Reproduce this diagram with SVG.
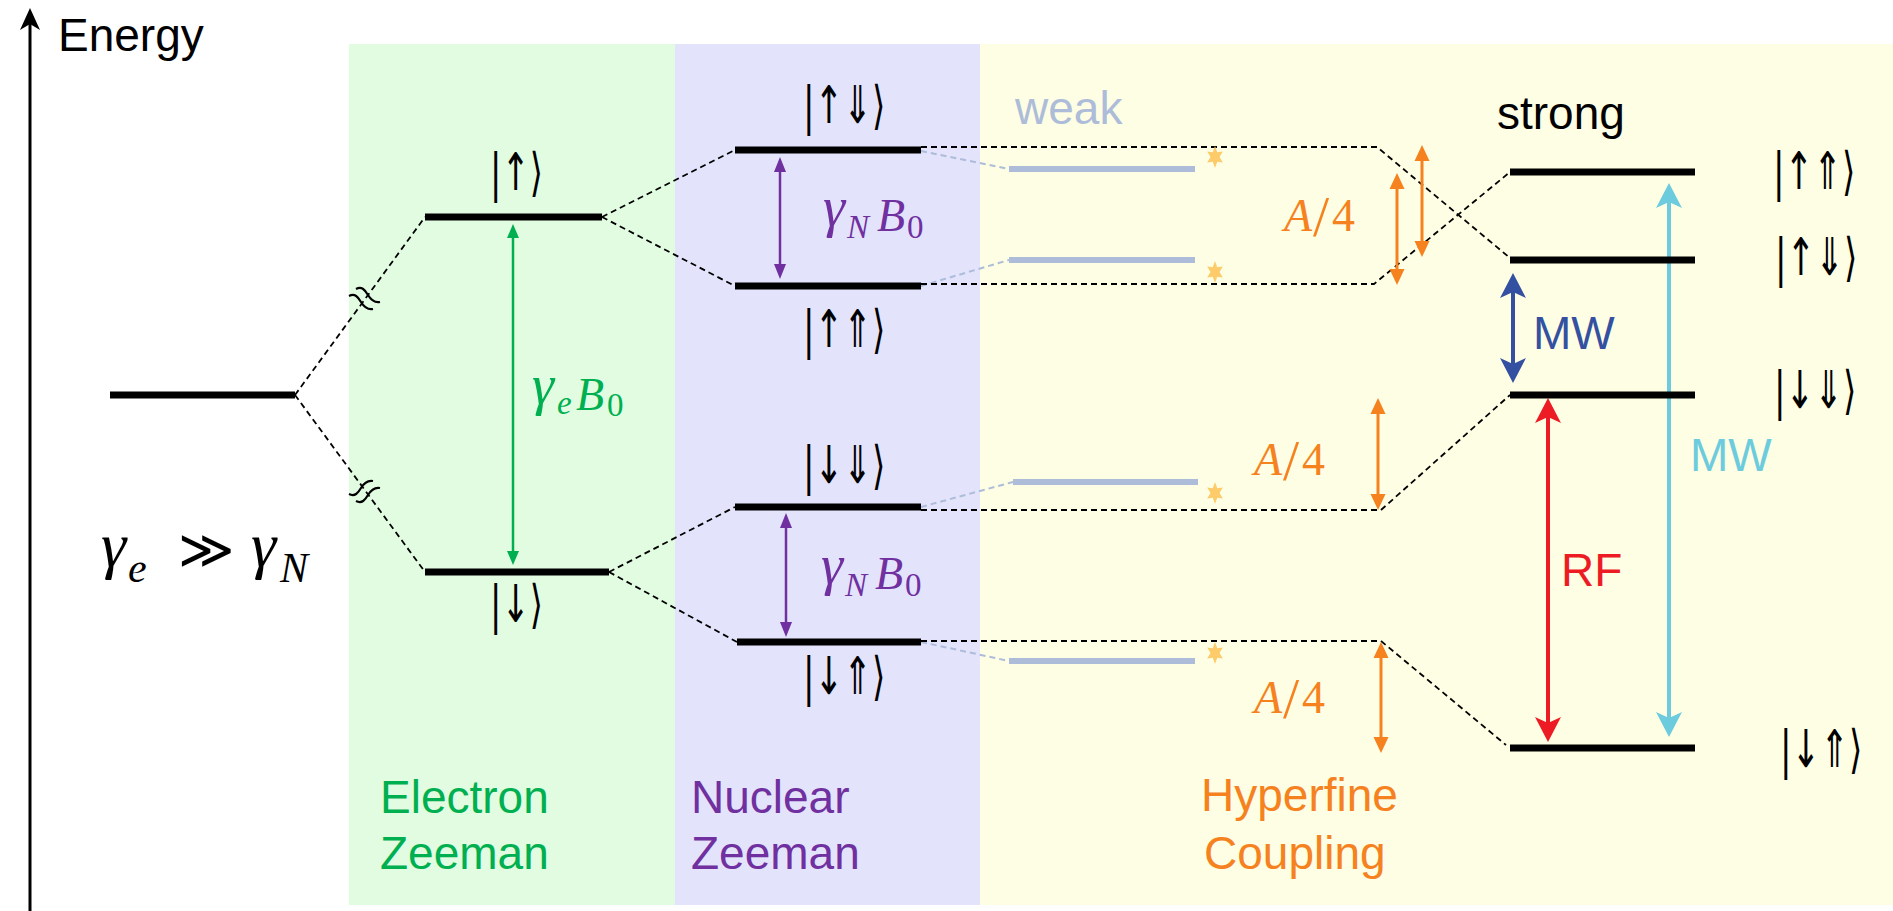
<svg xmlns="http://www.w3.org/2000/svg" width="1893" height="911" viewBox="0 0 1893 911">
<style>
.lvl{stroke:#000;stroke-width:7;}
.weak{stroke:#adbcd9;stroke-width:6;}
.dash{stroke:#000;stroke-width:1.8;stroke-dasharray:6 4;fill:none;}
.wdash{stroke:#adbcd9;stroke-width:2;stroke-dasharray:6 4;fill:none;}
.sans{font-family:"Liberation Sans",Arial,sans-serif;font-size:46px;}
.ket{font-family:"DejaVu Sans","Noto Sans",sans-serif;font-size:52px;fill:#000;}
.math{font-family:"Liberation Serif","DejaVu Serif",serif;font-size:46px;}
.it{font-style:italic;}
.g{font-size:56px;}
.sub{font-size:33px;}
.sl{font-size:58px;}
.star{fill:#fecb6a;}
</style>
<defs>
<marker id="ahG" markerUnits="userSpaceOnUse" viewBox="-12 -8 20 16" markerWidth="20" markerHeight="16" refX="0" refY="0" orient="auto-start-reverse"><path d="M5,0 L-9,-6 L-9,6 z" fill="#00b050"/></marker>
<marker id="ahP" markerUnits="userSpaceOnUse" viewBox="-12 -8 20 16" markerWidth="20" markerHeight="16" refX="0" refY="0" orient="auto-start-reverse"><path d="M5,0 L-10,-6 L-10,6 z" fill="#7030a0"/></marker>
<marker id="ahO" markerUnits="userSpaceOnUse" viewBox="-12 -9 20 18" markerWidth="20" markerHeight="18" refX="0" refY="0" orient="auto-start-reverse"><path d="M6,0 L-10,-7.5 L-10,7.5 z" fill="#f5821f"/></marker>
<marker id="stB" markerUnits="userSpaceOnUse" viewBox="-20 -15 30 30" markerWidth="30" markerHeight="30" refX="0" refY="0" orient="auto-start-reverse"><path d="M8,0 L-17,-13 L-11,0 L-17,13 z" fill="#3451a1"/></marker>
<marker id="stR" markerUnits="userSpaceOnUse" viewBox="-20 -15 30 30" markerWidth="30" markerHeight="30" refX="0" refY="0" orient="auto-start-reverse"><path d="M8,0 L-17,-13 L-11,0 L-17,13 z" fill="#ed1c24"/></marker>
<marker id="stC" markerUnits="userSpaceOnUse" viewBox="-20 -15 30 30" markerWidth="30" markerHeight="30" refX="0" refY="0" orient="auto-start-reverse"><path d="M8,0 L-17,-13 L-11,0 L-17,13 z" fill="#6ccbdd"/></marker>
<marker id="stK" markerUnits="userSpaceOnUse" viewBox="-20 -15 30 30" markerWidth="30" markerHeight="30" refX="0" refY="0" orient="auto-start-reverse"><path d="M6,0 L-16,-10 L-10,0 L-16,10 z" fill="#000"/></marker>
<path id="starShape" d="M0,-11 L2.25,-4.76 L7.8,-5.5 L4.5,0 L7.8,5.5 L2.25,4.76 L0,11 L-2.25,4.76 L-7.8,5.5 L-4.5,0 L-7.8,-5.5 L-2.25,-4.76 z"/>
</defs>

<g id="panels">
<rect x="349" y="44" width="326" height="861" fill="#e2fce2"/>
<rect x="675" y="44" width="305" height="861" fill="#e3e3fc"/>
<rect x="980" y="44" width="913" height="861" fill="#fefee4"/>
</g>

<g id="axis">
<line x1="30" y1="911" x2="30" y2="14" stroke="#000" stroke-width="3" marker-end="url(#stK)"/>
<text class="sans" x="58" y="51" fill="#000">Energy</text>
</g>

<g id="section-labels" class="sans">
<text x="380" y="813" fill="#00b050">Electron</text>
<text x="380" y="869" fill="#00b050">Zeeman</text>
<text x="691" y="813" fill="#7030a0">Nuclear</text>
<text x="691" y="869" fill="#7030a0">Zeeman</text>
<text x="1201" y="811" fill="#f5821f">Hyperfine</text>
<text x="1204" y="869" fill="#f5821f">Coupling</text>
<text x="1015" y="124" fill="#adbcd9">weak</text>
<text x="1497" y="129" fill="#000">strong</text>
</g>

<g id="connectors">
<path class="dash" d="M295,395 L425,217"/>
<path class="dash" d="M295,395 L425,572"/>
<path d="M349,296 c6,-3 9,1 12,6 c3,5 7,8 12,7 M356,289 c6,-3 9,1 12,6 c3,5 7,8 12,7" fill="none" stroke="#000" stroke-width="2.2"/>
<path d="M349,494 c6,3 9,-1 12,-6 c3,-5 7,-8 12,-7 M356,501 c6,3 9,-1 12,-6 c3,-5 7,-8 12,-7" fill="none" stroke="#000" stroke-width="2.2"/>
<path class="dash" d="M602,217 L735,150"/>
<path class="dash" d="M602,217 L735,286"/>
<path class="dash" d="M609,572 L735,507"/>
<path class="dash" d="M609,572 L737,642"/>
<path class="wdash" d="M921,151 L1009,169"/>
<path class="wdash" d="M921,286 L1009,260"/>
<path class="wdash" d="M921,507 L1013,482"/>
<path class="wdash" d="M921,642 L1009,661"/>
<path class="dash" d="M921,147 L1377,147 L1510,258"/>
<path class="dash" d="M921,284 L1374,284 L1510,172"/>
<path class="dash" d="M921,510 L1381,510 L1510,395"/>
<path class="dash" d="M921,641 L1381,641 L1506,745"/>
<line x1="513" y1="229" x2="513" y2="560" stroke="#00b050" stroke-width="2.5" marker-start="url(#ahG)" marker-end="url(#ahG)"/>
<line x1="780" y1="162" x2="780" y2="274" stroke="#7030a0" stroke-width="2.5" marker-start="url(#ahP)" marker-end="url(#ahP)"/>
<line x1="786" y1="518" x2="786" y2="632" stroke="#7030a0" stroke-width="2.5" marker-start="url(#ahP)" marker-end="url(#ahP)"/>
<line x1="1397" y1="179" x2="1397" y2="279" stroke="#f5821f" stroke-width="3" marker-start="url(#ahO)" marker-end="url(#ahO)"/>
<line x1="1422" y1="151" x2="1422" y2="251" stroke="#f5821f" stroke-width="3" marker-start="url(#ahO)" marker-end="url(#ahO)"/>
<line x1="1378" y1="404" x2="1378" y2="504" stroke="#f5821f" stroke-width="3" marker-start="url(#ahO)" marker-end="url(#ahO)"/>
<line x1="1381" y1="648" x2="1381" y2="747" stroke="#f5821f" stroke-width="3" marker-start="url(#ahO)" marker-end="url(#ahO)"/>
<line x1="1513" y1="281" x2="1513" y2="375" stroke="#3451a1" stroke-width="4" marker-start="url(#stB)" marker-end="url(#stB)"/>
<line x1="1548" y1="406" x2="1548" y2="734" stroke="#ed1c24" stroke-width="4" marker-start="url(#stR)" marker-end="url(#stR)"/>
<line x1="1669" y1="191" x2="1669" y2="729" stroke="#6ccbdd" stroke-width="4" marker-start="url(#stC)" marker-end="url(#stC)"/>
</g>

<g id="transition-labels">
<text class="math" fill="#00b050"><tspan class="it g" x="532" y="404">γ</tspan><tspan class="it sub" x="557" y="414">e</tspan><tspan class="it" x="576" y="410">B</tspan><tspan class="sub" x="607" y="416">0</tspan></text>
<text class="math" fill="#7030a0"><tspan class="it g" x="823" y="226">γ</tspan><tspan class="it sub" x="847" y="238">N</tspan><tspan class="it" x="877" y="231">B</tspan><tspan class="sub" x="907" y="238">0</tspan></text>
<text class="math" fill="#7030a0"><tspan class="it g" x="821" y="584">γ</tspan><tspan class="it sub" x="845" y="596">N</tspan><tspan class="it" x="875" y="589">B</tspan><tspan class="sub" x="905" y="596">0</tspan></text>
<text class="math" fill="#f5821f" font-size="48"><tspan class="it" x="1284" y="231">A</tspan><tspan class="sl" x="1313" y="236">/</tspan><tspan x="1332" y="231">4</tspan></text>
<text class="math" fill="#f5821f" font-size="48"><tspan class="it" x="1254" y="475">A</tspan><tspan class="sl" x="1283" y="480">/</tspan><tspan x="1302" y="475">4</tspan></text>
<text class="math" fill="#f5821f" font-size="48"><tspan class="it" x="1254" y="713">A</tspan><tspan class="sl" x="1283" y="718">/</tspan><tspan x="1302" y="713">4</tspan></text>
<text class="sans" x="1533" y="349" fill="#3451a1">MW</text>
<text class="sans" x="1561" y="586" fill="#ed1c24">RF</text>
<text class="sans" x="1690" y="471" fill="#6ccbdd">MW</text>
</g>

<g id="ratio-label">
<text class="math" fill="#000"><tspan class="it" x="101" y="566" font-size="64">γ</tspan><tspan class="it" x="128" y="582" font-size="42">e</tspan><tspan class="it" x="251" y="566" font-size="64">γ</tspan><tspan class="it" x="280" y="582" font-size="42">N</tspan></text>
<text x="178" y="568" font-family="DejaVu Sans,sans-serif" font-weight="200" font-size="54" fill="#000">≫</text>
</g>

<g id="level-zero"><line class="lvl" x1="110" y1="395" x2="295" y2="395"/></g>

<g id="e-up"><line class="lvl" x1="425" y1="217" x2="602" y2="217"/><text class="ket" transform="translate(490,190) scale(0.65,1)">|↑⟩</text></g>
<g id="e-down"><line class="lvl" x1="425" y1="572" x2="609" y2="572"/><text class="ket" transform="translate(490,622) scale(0.65,1)">|↓⟩</text></g>

<g id="n-upDown"><line class="lvl" x1="735" y1="150" x2="921" y2="150"/><text class="ket" transform="translate(803,123) scale(0.66,1)">|↑⇓⟩</text></g>
<g id="n-upUp"><line class="lvl" x1="735" y1="286" x2="921" y2="286"/><text class="ket" transform="translate(803,347) scale(0.66,1)">|↑⇑⟩</text></g>
<g id="n-downDown"><line class="lvl" x1="735" y1="507" x2="921" y2="507"/><text class="ket" transform="translate(803,483) scale(0.66,1)">|↓⇓⟩</text></g>
<g id="n-downUp"><line class="lvl" x1="737" y1="642" x2="921" y2="642"/><text class="ket" transform="translate(803,694) scale(0.66,1)">|↓⇑⟩</text></g>

<g id="weak-1"><line class="weak" x1="1009" y1="169" x2="1195" y2="169"/><use href="#starShape" class="star" x="1215" y="157"/></g>
<g id="weak-2"><line class="weak" x1="1009" y1="260" x2="1195" y2="260"/><use href="#starShape" class="star" x="1215" y="272"/></g>
<g id="weak-3"><line class="weak" x1="1013" y1="482" x2="1198" y2="482"/><use href="#starShape" class="star" x="1215" y="493"/></g>
<g id="weak-4"><line class="weak" x1="1009" y1="661" x2="1195" y2="661"/><use href="#starShape" class="star" x="1215" y="653"/></g>

<g id="s-upUp"><line class="lvl" x1="1510" y1="172" x2="1695" y2="172"/><text class="ket" transform="translate(1773,189) scale(0.66,1)">|↑⇑⟩</text></g>
<g id="s-upDown"><line class="lvl" x1="1510" y1="260" x2="1695" y2="260"/><text class="ket" transform="translate(1775,275) scale(0.66,1)">|↑⇓⟩</text></g>
<g id="s-downDown"><line class="lvl" x1="1510" y1="395" x2="1695" y2="395"/><text class="ket" transform="translate(1774,408) scale(0.66,1)">|↓⇓⟩</text></g>
<g id="s-downUp"><line class="lvl" x1="1510" y1="748" x2="1695" y2="748"/><text class="ket" transform="translate(1780,767) scale(0.66,1)">|↓⇑⟩</text></g>
</svg>
